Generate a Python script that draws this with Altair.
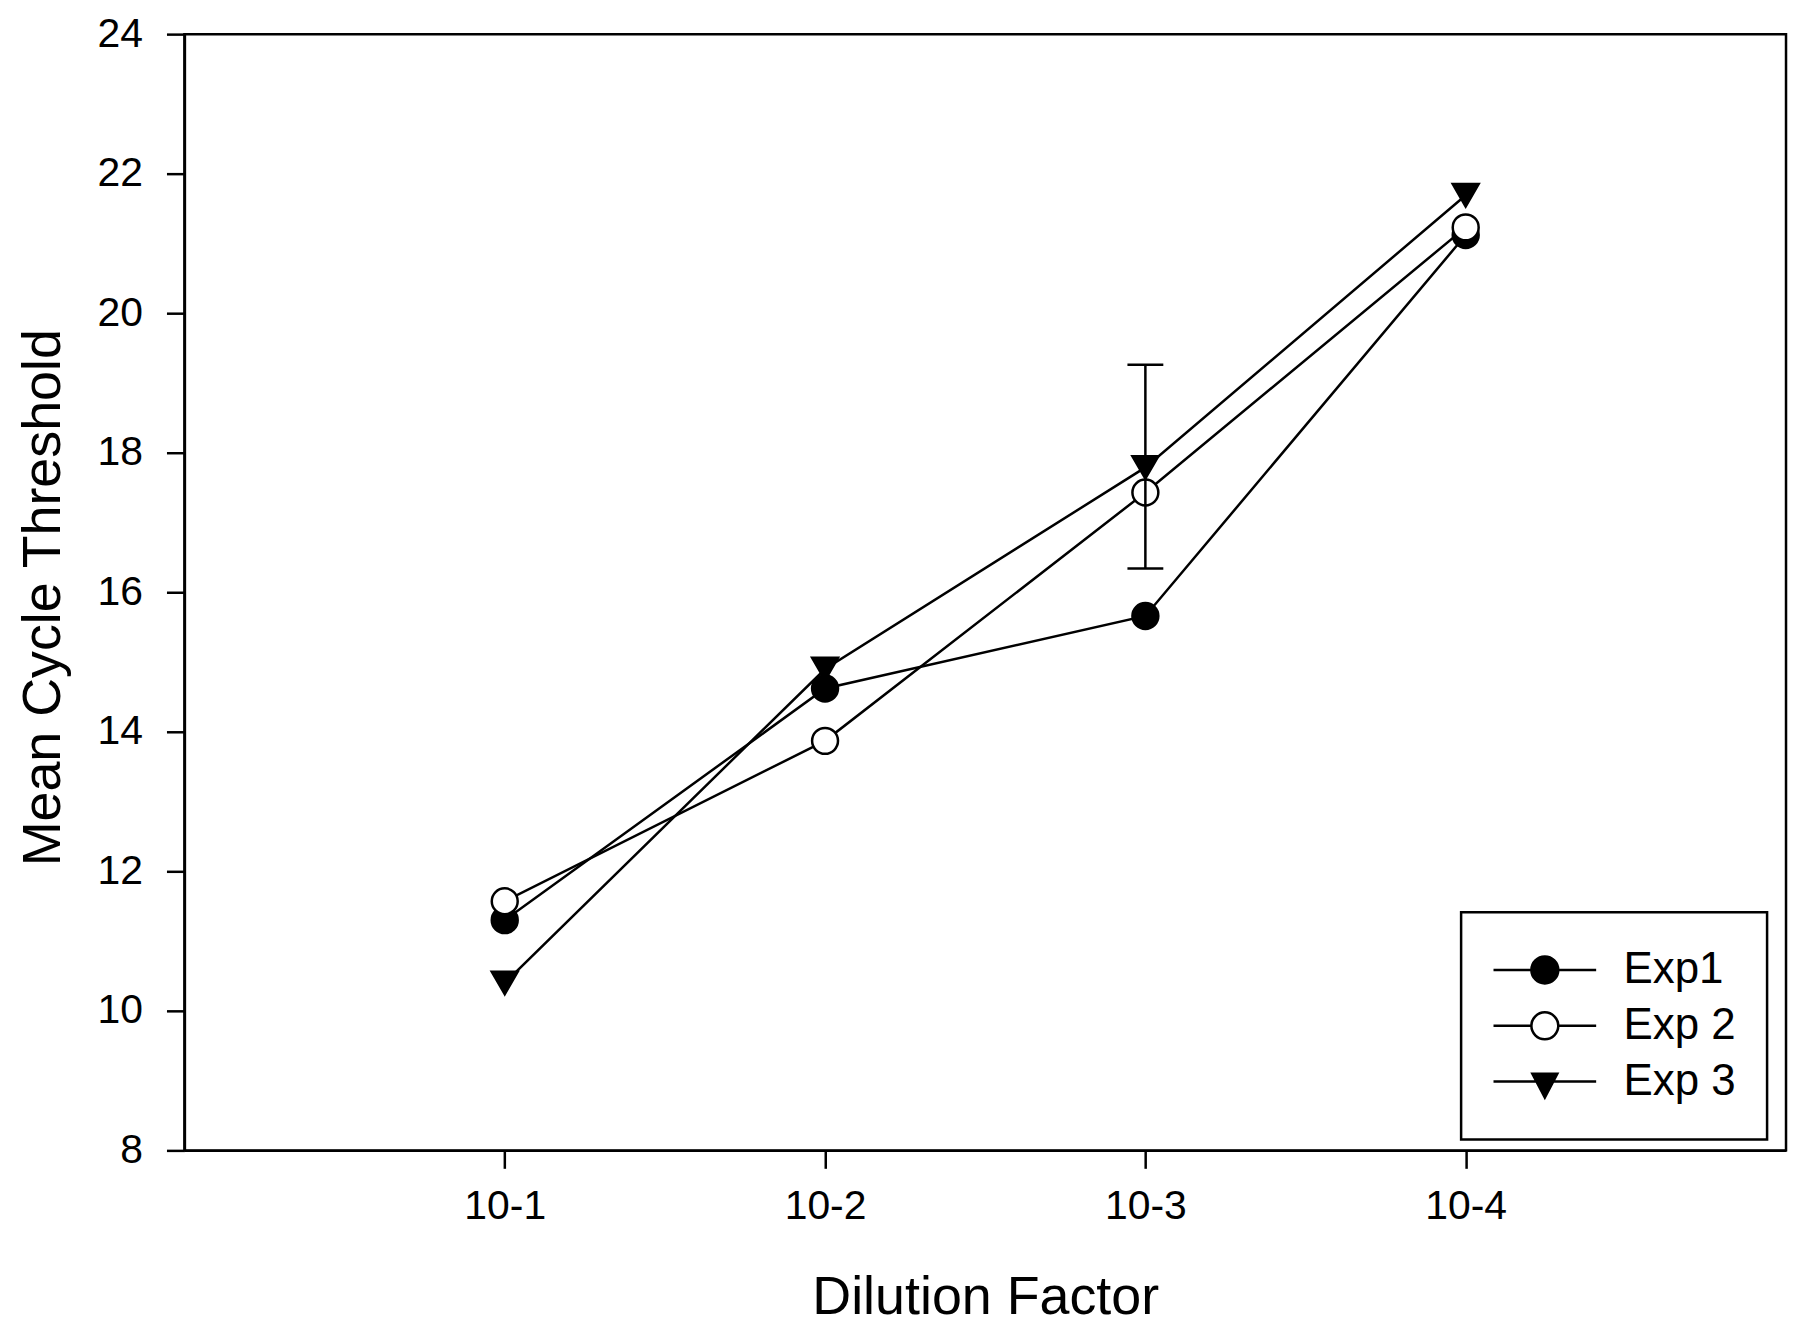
import altair as alt
import pandas as pd

# ---- data ----
dilutions = ["10-1", "10-2", "10-3", "10-4"]
series = ["Exp1", "Exp 2", "Exp 3"]
exp1 = [11.30, 14.62, 15.66, 21.12]
exp2 = [11.57, 13.87, 17.43, 21.23]
exp3 = [10.40, 14.90, 17.79, 21.69]
y_ticks = [8, 10, 12, 14, 16, 18, 20, 22, 24]

# error bar (only one shown: Exp 3 at 10-3)
err_dilution = ["10-3"]
err_series = ["Exp 3"]
err_low = [16.34]
err_high = [19.26]

rows = []
for name, vals in zip(series, [exp1, exp2, exp3]):
    for d, v in zip(dilutions, vals):
        rows.append({"series": name, "dilution": d, "ct": v})
df = pd.DataFrame(rows)
err_df = pd.DataFrame({"dilution": err_dilution, "series": err_series,
                       "lo": err_low, "hi": err_high})

FONT = "Liberation Sans"
SW = 2.5

axis_common = dict(domainColor="black", domainWidth=SW, tickColor="black",
                   tickWidth=SW, tickSize=18, labelFont=FONT, labelFontSize=41,
                   labelColor="black", titleFont=FONT, titleFontSize=54,
                   titleFontWeight="normal", titleColor="black", grid=False)

x_axis = alt.Axis(title="Dilution Factor", labelAngle=0, labelPadding=18,
                  titleY=164, titleBaseline="alphabetic", **axis_common)
y_axis = alt.Axis(title="Mean Cycle Threshold", values=y_ticks, labelPadding=24,
                  titleX=-125, titleY=565, titleBaseline="alphabetic",
                  titleAlign="center", **axis_common)

x_scale = alt.Scale(type="point", padding=1, domain=dilutions)
y_scale = alt.Scale(domain=[8, 24], nice=False, zero=False)

def X():
    return alt.X("dilution:N", sort=dilutions, scale=x_scale, axis=x_axis)

def Y(field):
    return alt.Y(field, scale=y_scale, axis=y_axis)

lines = alt.Chart(df).mark_line(color="black", strokeWidth=SW).encode(
    x=X(), y=Y("ct:Q"), detail="series:N",
)

points = alt.Chart(df).mark_point(stroke="black", strokeWidth=SW, opacity=1).encode(
    x=X(), y=Y("ct:Q"),
    shape=alt.Shape("series:N", scale=alt.Scale(domain=series,
                    range=["circle", "circle", "triangle-down"]), legend=None),
    fill=alt.Fill("series:N", scale=alt.Scale(domain=series,
                  range=["black", "white", "black"]), legend=None),
    size=alt.Size("series:N", scale=alt.Scale(domain=series,
                  range=[676, 676, 784]), legend=None),
)

err_rule = alt.Chart(err_df).mark_rule(color="black", strokeWidth=SW).encode(
    x=X(), y=Y("lo:Q"), y2="hi:Q",
)
err_caps = alt.Chart(err_df).transform_fold(["lo", "hi"], as_=["end", "val"]).mark_tick(
    orient="horizontal", size=36, thickness=SW, color="black", opacity=1
).encode(
    x=X(), y=Y("val:Q"),
)

# legend symbols: line through marker (custom paths in the -1..1 box)
p_filled = "M-1,0L1,0M-0.262,0A0.262,0.262,0,1,0,0.262,0A0.262,0.262,0,1,0,-0.262,0Z"
p_open = "M-1,0L-0.262,0M0.262,0L1,0M-0.262,0A0.262,0.262,0,1,0,0.262,0A0.262,0.262,0,1,0,-0.262,0Z"
p_tri = "M-1,0L1,0M-0.243,-0.155L0.243,-0.155L0,0.31Z"

leg = alt.Legend(title=None, orient="none", legendX=1281, legendY=881,
                 symbolSize=10609, symbolStrokeWidth=SW, symbolStrokeColor="black",
                 symbolOpacity=1, labelFont=FONT, labelFontSize=44, labelColor="black",
                 labelOffset=26, padding=31, rowPadding=2, clipHeight=54,
                 strokeColor="black", fillColor="white")

legend_layer = alt.Chart(df).mark_point(opacity=0, strokeWidth=SW).encode(
    x=X(), y=Y("ct:Q"),
    shape=alt.Shape("series:N", scale=alt.Scale(domain=series,
                    range=[p_filled, p_open, p_tri]), legend=leg),
    fill=alt.Fill("series:N", scale=alt.Scale(domain=series,
                  range=["black", "white", "black"]), legend=leg),
    stroke=alt.Stroke("series:N", scale=alt.Scale(domain=series,
                      range=["black", "black", "black"]), legend=leg),
)

chart = alt.layer(lines, points, err_rule, err_caps, legend_layer).resolve_scale(
    shape="independent", fill="independent", size="independent", stroke="independent"
).properties(
    width=1607, height=1120,
    autosize=alt.AutoSizeParams(type="none"),
    padding={"left": 177, "top": 24, "right": 6, "bottom": 175},
    background="white",
).configure_view(
    stroke="black", strokeWidth=SW
).configure_legend(
    strokeWidth=SW
)

chart.save("out.html", embed_options={"renderer": "svg", "actions": False})
